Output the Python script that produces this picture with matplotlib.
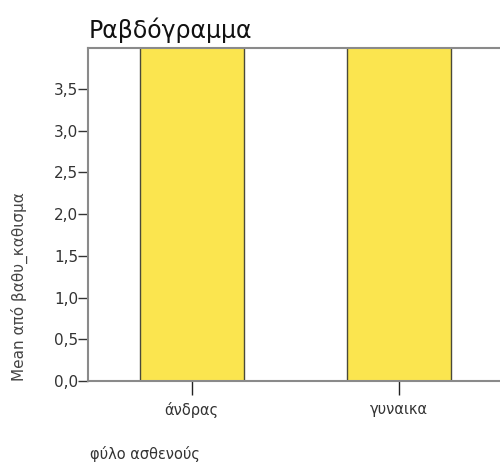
import matplotlib
matplotlib.use("Agg")
import matplotlib.pyplot as plt

# data
categories = ["άνδρας", "γυναικα"]
means = [4.2, 4.2]
yticks = [0.0, 0.5, 1.0, 1.5, 2.0, 2.5, 3.0, 3.5]
ytick_labels = ["0,0", "0,5", "1,0", "1,5", "2,0", "2,5", "3,0", "3,5"]

plt.rcParams["font.family"] = ["DejaVu Sans"]

fig = plt.figure(figsize=(5, 4.67), dpi=100)
ax = fig.add_axes([0.176, 0.184, 0.83, 0.713])

ax.bar(range(len(categories)), means, width=0.5,
       color="#fbe54f", edgecolor="#4a4a3a", linewidth=1.0, zorder=2)

ax.set_xlim(-0.5, 1.5)
ax.set_ylim(0, 3.99)
ax.set_yticks(yticks)
ax.set_yticklabels(ytick_labels)
ax.set_xticks(range(len(categories)))
ax.set_xticklabels(categories)

for side in ["left", "bottom", "top"]:
    ax.spines[side].set_color("#8a8a8a")
    ax.spines[side].set_linewidth(1.5)
ax.spines["right"].set_visible(False)

ax.tick_params(axis="y", length=7, width=1, color="#333333",
               labelsize=11, labelcolor="#333333", pad=0)
ax.tick_params(axis="x", length=10, width=1, color="#222222",
               labelsize=10.5, labelcolor="#333333", pad=5)

fig.text(0.178, 0.935, "Ραβδόγραμμα", fontsize=17, color="#111111",
         ha="left", va="center")
ax.text(-0.165, 0.0, "Mean από βαθυ_καθισμα", transform=ax.transAxes,
        rotation=90, fontsize=11, color="#444444", ha="center", va="bottom")
fig.text(0.18, 0.028, "φύλο ασθενούς", fontsize=10.5, color="#333333",
         ha="left", va="center")

fig.savefig("out.png", dpi=100)
